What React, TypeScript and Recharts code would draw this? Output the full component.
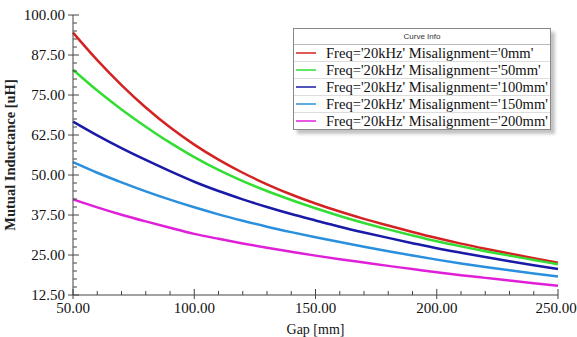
import React from 'react';
import { LineChart, Line, XAxis, YAxis, Legend } from 'recharts';

// gap values along the x axis [mm]
const gaps = [50, 60, 70, 80, 90, 100, 110, 120, 130, 140, 150, 160, 170, 180, 190, 200, 210, 220, 230, 240, 250];

// mutual inductance [uH]
const mis0 = [94.5, 85.9, 78.1, 71.1, 64.9, 59.5, 54.8, 50.7, 47.1, 43.9, 41.1, 38.6, 36.3, 34.2, 32.2, 30.3, 28.55, 26.95, 25.45, 24.0, 22.6];
const mis50 = [82.9, 76.4, 70.5, 65.1, 60.1, 55.6, 51.6, 48.1, 45.0, 42.2, 39.6, 37.2, 35.0, 33.0, 31.1, 29.3, 27.7, 26.2, 24.8, 23.45, 22.1];
const mis100 = [66.7, 62.4, 58.4, 54.7, 51.2, 47.9, 45.0, 42.4, 40.0, 37.8, 35.8, 33.85, 32.05, 30.35, 28.7, 27.1, 25.7, 24.35, 23.05, 21.8, 20.6];
const mis150 = [54.0, 50.7, 47.7, 44.9, 42.3, 39.9, 37.7, 35.7, 33.85, 32.15, 30.55, 29.05, 27.6, 26.2, 24.85, 23.55, 22.35, 21.25, 20.2, 19.2, 18.25];
const mis200 = [42.4, 39.9, 37.6, 35.5, 33.5, 31.6, 30.05, 28.6, 27.25, 26.0, 24.8, 23.7, 22.65, 21.6, 20.6, 19.6, 18.7, 17.85, 17.0, 16.2, 15.4];

const seriesNames = [
  "Freq='20kHz' Misalignment='0mm'",
  "Freq='20kHz' Misalignment='50mm'",
  "Freq='20kHz' Misalignment='100mm'",
  "Freq='20kHz' Misalignment='150mm'",
  "Freq='20kHz' Misalignment='200mm'",
];
const seriesColors = ['#d42222', '#33dd33', '#1a1aa8', '#2a8fdc', '#e020d8'];
const seriesValues = [mis0, mis50, mis100, mis150, mis200];

// every 10 mm a tick, labelled every 50
const xTicks = [50, 60, 70, 80, 90, 100, 110, 120, 130, 140, 150, 160, 170, 180, 190, 200, 210, 220, 230, 240, 250];
// every 2.5 uH a tick, labelled every 12.5
const yTicks = [12.5, 15, 17.5, 20, 22.5, 25, 27.5, 30, 32.5, 35, 37.5, 40, 42.5, 45, 47.5, 50, 52.5, 55, 57.5, 60, 62.5, 65, 67.5, 70, 72.5, 75, 77.5, 80, 82.5, 85, 87.5, 90, 92.5, 95, 97.5, 100];

const data = gaps.map((g, i) => {
  const row: any = { gap: g };
  seriesValues.forEach((vals, k) => {
    row['s' + k] = vals[i];
  });
  return row;
});

const font = '"Liberation Serif", "Times New Roman", serif';

const XTick = (props: any) => {
  const { x, y, payload } = props;
  const major = payload.value % 50 === 0;
  // last label sits on the right edge, nudge it so it stays inside
  const last = payload.value === xTicks[xTicks.length - 1];
  return (
    <g>
      <line x1={x} x2={x} y1={y - (major ? 6 : 4)} y2={y + (major ? 4 : 0)} stroke="#444" />
      {major && (
        <text x={last ? x - 2 : x} y={y + 18} textAnchor="middle" fontSize={15} fontFamily={font} fill="#111">
          {payload.value.toFixed(2)}
        </text>
      )}
    </g>
  );
};

const YTick = (props: any) => {
  const { x, y, payload } = props;
  const r = (payload.value - 12.5) / 12.5;
  const major = Math.abs(r - Math.round(r)) < 1e-6;
  return (
    <g>
      <line x1={x - (major ? 5 : 0)} x2={x + (major ? 6 : 4)} y1={y} y2={y} stroke="#444" />
      {major && (
        <text x={x - 8} y={y + 5} textAnchor="end" fontSize={15} fontFamily={font} fill="#111">
          {payload.value.toFixed(2)}
        </text>
      )}
    </g>
  );
};

const CurveInfo = () => (
  <div
    style={{
      width: 256,
      background: '#fff',
      border: '1px solid #888',
      boxShadow: '4px 4px 3px #c4c4c4',
      fontFamily: font,
    }}
  >
    <div
      style={{
        height: 15,
        lineHeight: '15px',
        textAlign: 'center',
        fontSize: 8,
        fontFamily: 'Arial, "Liberation Sans", sans-serif',
        color: '#333',
        borderBottom: '1px solid #bbb',
      }}
    >
      Curve Info
    </div>
    {seriesNames.map((n, i) => (
      <div
        key={n}
        style={{
          height: 16,
          lineHeight: '16px',
          display: 'flex',
          alignItems: 'center',
          borderBottom: i < seriesNames.length - 1 ? '1px solid #ddd' : 'none',
          fontSize: 14.6,
          color: '#111',
          whiteSpace: 'nowrap',
        }}
      >
        <span style={{ display: 'inline-block', width: 20, height: 2, background: seriesColors[i], margin: '0 10px 0 2px', opacity: 0.75 }} />
        {n}
      </div>
    ))}
  </div>
);

export default function App() {
  return (
    <div style={{ position: 'absolute', left: 0, top: 0, width: 577, height: 337, background: '#fff' }}>
      <LineChart width={577} height={337} data={data} margin={{ top: 15, right: 19, left: 0, bottom: 0 }}>
        <XAxis
          dataKey="gap"
          type="number"
          domain={[50, 250]}
          ticks={xTicks}
          interval={0}
          tickSize={0}
          tickMargin={0}
          tickLine={false}
          tick={<XTick />}
          height={42}
          stroke="#444"
          label={{ value: 'Gap [mm]', position: 'insideBottom', offset: 3, fontSize: 14, fontFamily: font, fill: '#111' }}
        />
        <YAxis
          type="number"
          domain={[12.5, 100]}
          ticks={yTicks}
          interval={0}
          tickSize={0}
          tickMargin={0}
          tickLine={false}
          tick={<YTick />}
          width={73}
          stroke="#444"
          label={{
            value: 'Mutual Inductance [uH]',
            angle: -90,
            position: 'insideLeft',
            offset: 10,
            style: { textAnchor: 'middle', fontWeight: 'bold' },
            fontSize: 14.5,
            fontFamily: font,
            fill: '#222',
          }}
        />
        <Legend
          layout="vertical"
          align="center"
          verticalAlign="middle"
          wrapperStyle={{ position: 'absolute', left: 293, top: 28, width: 258 }}
          content={<CurveInfo />}
        />
        {seriesNames.map((n, k) => (
          <Line
            key={n}
            type="monotone"
            dataKey={'s' + k}
            name={n}
            stroke={seriesColors[k]}
            strokeWidth={2.5}
            dot={false}
            isAnimationActive={false}
          />
        ))}
      </LineChart>
    </div>
  );
}
